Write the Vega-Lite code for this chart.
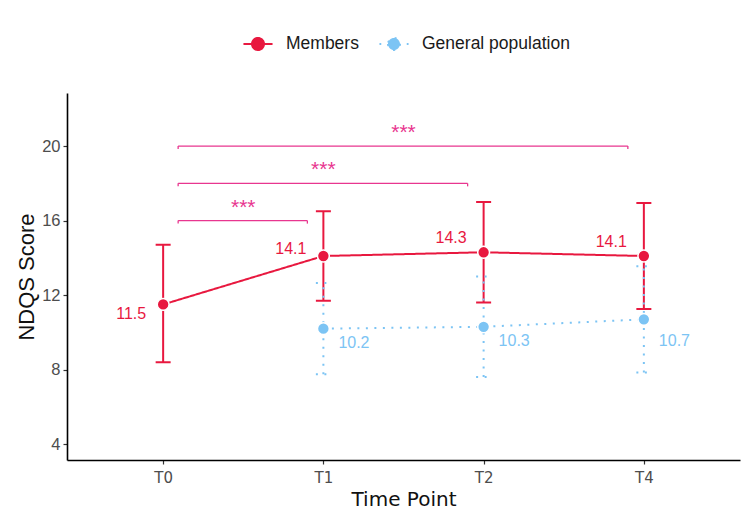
{
  "$schema": "https://vega.github.io/schema/vega-lite/v6.json",
  "autosize": {"type": "none"},
  "width": 673,
  "height": 367,
  "padding": {"left": 67, "top": 93, "right": 10, "bottom": 65},
  "background": "white",
  "config": {
    "view": {"stroke": null},
    "font": "Liberation Sans",
    "axis": {
      "grid": false,
      "domainColor": "#000000",
      "domainWidth": 1.6,
      "tickColor": "#333333",
      "tickSize": 4,
      "tickWidth": 1.2,
      "labelColor": "#4D4D4D",
      "labelFontSize": 16.5,
      "labelFont": "Liberation Sans",
      "titleFont": "Liberation Sans",
      "titleFontSize": 22,
      "titleFontWeight": "normal",
      "titleColor": "#111111"
    }
  },
  "datasets": {
    "scores": [
      {"group": "Members", "time": "T0", "idx": 0, "mean": 11.5, "lo": 8.4, "hi": 14.7},
      {"group": "Members", "time": "T1", "idx": 1, "mean": 14.1, "lo": 11.7, "hi": 16.5},
      {"group": "Members", "time": "T2", "idx": 2, "mean": 14.3, "lo": 11.6, "hi": 17.0},
      {"group": "Members", "time": "T4", "idx": 3, "mean": 14.1, "lo": 11.25, "hi": 16.95},
      {"group": "General population", "time": "T1", "idx": 1, "mean": 10.2, "lo": 7.75, "hi": 12.65},
      {"group": "General population", "time": "T2", "idx": 2, "mean": 10.3, "lo": 7.6, "hi": 13.0},
      {"group": "General population", "time": "T4", "idx": 3, "mean": 10.7, "lo": 7.85, "hi": 13.55}
    ],
    "signif": [
      {"from": 0, "to": 1, "mid": 0.5, "y": 16, "label": "***"},
      {"from": 0, "to": 2, "mid": 1.0, "y": 18, "label": "***"},
      {"from": 0, "to": 3, "mid": 1.5, "y": 20, "label": "***"}
    ]
  },
  "encoding": {
    "x": {
      "field": "idx",
      "type": "quantitative",
      "scale": {"domain": [-0.6, 3.6], "nice": false, "zero": false},
      "axis": {
        "title": "Time Point",
        "values": [0, 1, 2, 3],
        "labelExpr": "['T0','T1','T2','T4'][datum.value]",
        "labelFont": "DejaVu Sans",
        "labelFontSize": 15,
        "titleFont": "DejaVu Sans",
        "titleFontSize": 20,
        "titlePadding": 4,
        "labelPadding": 6
      }
    }
  },
  "layer": [
    {
      "data": {"name": "signif"},
      "mark": {"type": "rule", "color": "#E8368F", "strokeWidth": 1.3, "xOffset": 15, "x2Offset": -16},
      "encoding": {
        "x": {"field": "from", "type": "quantitative"},
        "x2": {"field": "to"},
        "y": {"field": "y", "type": "quantitative"}
      }
    },
    {
      "data": {"name": "signif"},
      "mark": {"type": "rule", "color": "#E8368F", "strokeWidth": 1.3, "xOffset": 15, "x2Offset": 15, "y2Offset": 3},
      "encoding": {
        "x": {"field": "from", "type": "quantitative"},
        "y": {"field": "y", "type": "quantitative"},
        "y2": {"field": "y"}
      }
    },
    {
      "data": {"name": "signif"},
      "mark": {"type": "rule", "color": "#E8368F", "strokeWidth": 1.3, "xOffset": -16, "x2Offset": -16, "y2Offset": 3},
      "encoding": {
        "x": {"field": "to", "type": "quantitative"},
        "y": {"field": "y", "type": "quantitative"},
        "y2": {"field": "y"}
      }
    },
    {
      "data": {"name": "signif"},
      "mark": {"type": "text", "color": "#E8368F", "fontSize": 21, "baseline": "alphabetic", "dy": -7, "font": "Liberation Sans"},
      "encoding": {
        "x": {"field": "mid", "type": "quantitative"},
        "y": {"field": "y", "type": "quantitative"},
        "text": {"field": "label"}
      }
    },
    {
      "data": {"name": "scores"},
      "mark": {"type": "rule", "strokeWidth": 2},
      "encoding": {
        "y": {"field": "lo", "type": "quantitative"},
        "y2": {"field": "hi"},
        "color": {"field": "group", "type": "nominal"},
        "strokeDash": {"field": "group", "type": "nominal"}
      }
    },
    {
      "data": {"name": "scores"},
      "mark": {"type": "rule", "strokeWidth": 2, "xOffset": -7.5, "x2Offset": 7.5},
      "encoding": {
        "x2": {"field": "idx"},
        "y": {"field": "lo", "type": "quantitative"},
        "color": {"field": "group", "type": "nominal"},
        "strokeDash": {"field": "group", "type": "nominal"}
      }
    },
    {
      "data": {"name": "scores"},
      "mark": {"type": "rule", "strokeWidth": 2, "xOffset": -7.5, "x2Offset": 7.5},
      "encoding": {
        "x2": {"field": "idx"},
        "y": {"field": "hi", "type": "quantitative"},
        "color": {"field": "group", "type": "nominal"},
        "strokeDash": {"field": "group", "type": "nominal"}
      }
    },
    {
      "data": {"name": "scores"},
      "mark": {"type": "line", "strokeWidth": 2},
      "encoding": {
        "y": {
          "field": "mean",
          "type": "quantitative",
          "scale": {"domain": [3.15, 22.85], "nice": false, "zero": false},
          "axis": {"title": "NDQS Score", "values": [4, 8, 12, 16, 20], "titlePadding": 3, "labelPadding": 3}
        },
        "color": {
          "field": "group",
          "type": "nominal",
          "scale": {"domain": ["Members", "General population"], "range": ["#E8183F", "#7CC4F4"]},
          "legend": {
            "title": null,
            "orient": "none",
            "legendX": 175,
            "legendY": -65,
            "direction": "horizontal",
            "symbolType": "M-1,0H1M-0.4,0a0.4,0.4 0 1,0 0.8,0a0.4,0.4 0 1,0 -0.8,0Z",
            "symbolSize": 900,
            "symbolStrokeWidth": 2,
            "labelFontSize": 17.5,
            "labelColor": "#1A1A1A",
            "labelOffset": 12,
            "columnPadding": 16,
            "encode": {
              "symbols": {
                "update": {
                  "shape": {"signal": "datum.value === 'Members' ? 'M-0.97,0H0.97M-0.4,0a0.4,0.4 0 1,0 0.8,0a0.4,0.4 0 1,0 -0.8,0Z' : 'M-0.97,0h0.12M0.85,0h0.12M-0.4,0a0.4,0.4 0 1,0 0.8,0a0.4,0.4 0 1,0 -0.8,0Z'"},
                  "fill": {"scale": "color", "field": "value"},
                  "stroke": {"scale": "color", "field": "value"},
                  "strokeDash": {"value": [1, 0]},
                  "opacity": {"value": 1}
                }
              }
            }
          }
        },
        "strokeDash": {
          "field": "group",
          "type": "nominal",
          "scale": {"domain": ["Members", "General population"], "range": [[1, 0], [2, 6.5]]},
          "legend": null
        },
        "detail": {"field": "group"}
      }
    },
    {
      "data": {"name": "scores"},
      "mark": {"type": "point", "filled": true, "size": 140, "opacity": 1, "stroke": "white", "strokeWidth": 1.5},
      "encoding": {
        "y": {"field": "mean", "type": "quantitative"},
        "color": {"field": "group", "type": "nominal"}
      }
    },
    {
      "data": {"name": "scores"},
      "transform": [{"filter": "datum.group === 'Members' && datum.idx === 0"}],
      "mark": {"type": "text", "align": "right", "baseline": "middle", "dx": -17, "dy": 10, "fontSize": 16},
      "encoding": {
        "y": {"field": "mean", "type": "quantitative"},
        "text": {"field": "mean", "format": ".1f"},
        "color": {"field": "group", "type": "nominal"}
      }
    },
    {
      "data": {"name": "scores"},
      "transform": [{"filter": "datum.group === 'Members' && datum.idx === 1"}],
      "mark": {"type": "text", "align": "right", "baseline": "middle", "dx": -17, "dy": -7, "fontSize": 16},
      "encoding": {
        "y": {"field": "mean", "type": "quantitative"},
        "text": {"field": "mean", "format": ".1f"},
        "color": {"field": "group", "type": "nominal"}
      }
    },
    {
      "data": {"name": "scores"},
      "transform": [{"filter": "datum.group === 'Members' && datum.idx > 1"}],
      "mark": {"type": "text", "align": "right", "baseline": "middle", "dx": -17, "dy": -14, "fontSize": 16},
      "encoding": {
        "y": {"field": "mean", "type": "quantitative"},
        "text": {"field": "mean", "format": ".1f"},
        "color": {"field": "group", "type": "nominal"}
      }
    },
    {
      "data": {"name": "scores"},
      "transform": [{"filter": "datum.group === 'General population' && datum.idx < 3"}],
      "mark": {"type": "text", "align": "left", "baseline": "middle", "dx": 15, "dy": 14, "fontSize": 16},
      "encoding": {
        "y": {"field": "mean", "type": "quantitative"},
        "text": {"field": "mean", "format": ".1f"},
        "color": {"field": "group", "type": "nominal"}
      }
    },
    {
      "data": {"name": "scores"},
      "transform": [{"filter": "datum.group === 'General population' && datum.idx === 3"}],
      "mark": {"type": "text", "align": "left", "baseline": "middle", "dx": 15, "dy": 22, "fontSize": 16},
      "encoding": {
        "y": {"field": "mean", "type": "quantitative"},
        "text": {"field": "mean", "format": ".1f"},
        "color": {"field": "group", "type": "nominal"}
      }
    }
  ]
}
